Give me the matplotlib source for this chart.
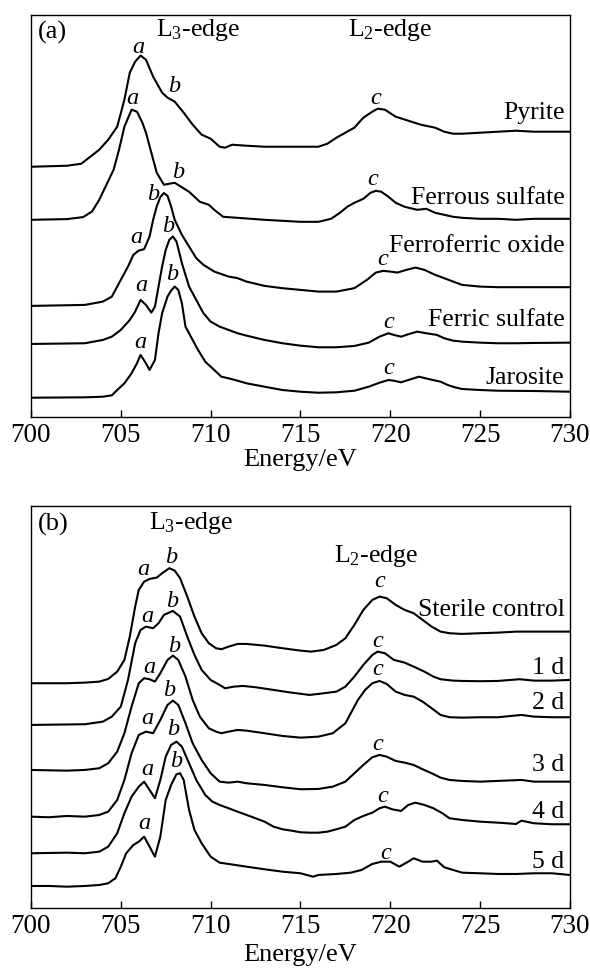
import numpy as np
import matplotlib
matplotlib.use("Agg")
import matplotlib.pyplot as plt

plt.rcParams['font.family'] = ['Liberation Serif', 'DejaVu Serif']
plt.rcParams['mathtext.fontset'] = 'custom'
plt.rcParams['mathtext.rm'] = 'Liberation Serif'
plt.rcParams['mathtext.it'] = 'Liberation Serif:italic'

# ---------------- panel (a): reference compounds (offset, a.u.) ----------------
pyrite_e = [700, 702, 702.8, 703.3, 703.8, 704.3, 704.8, 705.2, 705.5, 705.8, 706.1, 706.4, 706.8, 707.3,
            707.6, 708.0, 708.5, 709.0, 709.5, 710.0, 710.5, 710.8, 711.2, 712, 713, 714, 715, 716, 716.5,
            717, 717.5, 718, 718.5, 719, 719.3, 719.7, 720.3, 721, 721.7, 722.5, 723, 723.5, 724, 725, 726,
            727, 728, 730]
pyrite_i = [2.50, 2.51, 2.53, 2.60, 2.67, 2.77, 2.90, 3.17, 3.44, 3.55, 3.61, 3.57, 3.40, 3.24, 3.19, 3.15,
            3.04, 2.92, 2.82, 2.78, 2.70, 2.69, 2.72, 2.71, 2.70, 2.70, 2.70, 2.70, 2.73, 2.79, 2.84, 2.89,
            2.99, 3.05, 3.08, 3.07, 3.00, 2.96, 2.92, 2.89, 2.85, 2.83, 2.83, 2.84, 2.85, 2.86, 2.85, 2.85]

ferrous_e = [700, 702, 702.9, 703.4, 703.8, 704.2, 704.6, 704.9, 705.2, 705.6, 705.9, 706.2, 706.4, 706.7,
             707.0, 707.4, 708.0, 708.8, 709.4, 709.9, 710.2, 710.7, 711.5, 713, 715, 716, 716.7, 717.2,
             717.6, 718, 718.5, 718.9, 719.2, 719.5, 719.9, 720.3, 720.8, 721.5, 722, 722.5, 723.5, 724,
             725, 726, 727, 728, 730]
ferrous_i = [1.97, 1.977, 1.997, 2.053, 2.17, 2.32, 2.47, 2.67, 2.90, 3.07, 3.05, 2.94, 2.84, 2.64, 2.44,
             2.32, 2.34, 2.25, 2.15, 2.12, 2.07, 2.00, 1.99, 1.97, 1.95, 1.95, 1.98, 2.04, 2.10, 2.14, 2.18,
             2.24, 2.26, 2.25, 2.20, 2.14, 2.10, 2.07, 2.08, 2.04, 2.00, 1.99, 1.98, 1.98, 1.97, 1.98, 1.98]

ferroferric_e = [700, 703, 704, 704.5, 705, 705.4, 705.7, 706.0, 706.3, 706.6, 706.8, 707.0, 707.2, 707.4,
                 707.6, 707.8, 708.0, 708.4, 708.8, 709.2, 709.6, 710.2, 711, 711.5, 712, 713, 714, 715, 716,
                 717, 718, 718.7, 719.2, 719.6, 720.0, 720.4, 720.9, 721.4, 721.9, 722.5, 723, 723.5, 724,
                 725, 726, 728, 730]
ferroferric_i = [1.11, 1.12, 1.153, 1.203, 1.37, 1.503, 1.62, 1.663, 1.677, 1.803, 1.97, 2.103, 2.197, 2.237,
                 2.21, 2.103, 1.97, 1.82, 1.703, 1.587, 1.52, 1.453, 1.403, 1.387, 1.353, 1.31, 1.287, 1.27,
                 1.253, 1.253, 1.287, 1.37, 1.443, 1.46, 1.453, 1.443, 1.47, 1.493, 1.47, 1.42, 1.387, 1.353,
                 1.32, 1.303, 1.297, 1.297, 1.297]

ferric_e = [700, 703, 704, 704.5, 705, 705.5, 705.8, 706.1, 706.4, 706.7, 706.9, 707.1, 707.3, 707.5, 707.7,
            707.9, 708.1, 708.4, 708.8, 709.2, 709.6, 710, 710.5, 711, 711.5, 712, 713, 714, 715, 716, 717,
            718, 718.8, 719.4, 719.9, 720.2, 720.6, 721.0, 721.5, 722, 722.6, 723, 723.5, 724, 725, 726,
            727, 728, 730]
ferric_i = [0.73, 0.737, 0.77, 0.803, 0.87, 0.97, 1.053, 1.17, 1.12, 1.043, 1.103, 1.303, 1.503, 1.67, 1.77,
            1.803, 1.753, 1.537, 1.303, 1.17, 1.037, 0.953, 0.903, 0.87, 0.837, 0.813, 0.77, 0.737, 0.713,
            0.697, 0.697, 0.71, 0.743, 0.803, 0.837, 0.82, 0.803, 0.827, 0.853, 0.837, 0.82, 0.787, 0.763,
            0.753, 0.743, 0.737, 0.737, 0.74, 0.743]

jarosite_e = [700, 703, 704, 704.5, 704.8, 705.2, 705.6, 705.9, 706.1, 706.4, 706.6, 706.9, 707.1, 707.3,
              707.6, 707.8, 708.0, 708.2, 708.4, 708.6, 708.9, 709.3, 709.7, 710.2, 710.6, 711, 711.5, 712,
              713, 714, 715, 716, 717, 718, 718.8, 719.4, 719.9, 720.2, 720.6, 721, 721.6, 722.2, 722.8,
              723.2, 723.6, 724, 725, 726, 728, 730]
jarosite_i = [0.193, 0.197, 0.203, 0.217, 0.27, 0.337, 0.437, 0.537, 0.62, 0.537, 0.47, 0.57, 0.837, 1.037,
              1.203, 1.263, 1.303, 1.27, 1.137, 0.903, 0.803, 0.67, 0.553, 0.47, 0.403, 0.387, 0.363, 0.337,
              0.303, 0.27, 0.253, 0.243, 0.247, 0.263, 0.303, 0.343, 0.37, 0.363, 0.347, 0.37, 0.403, 0.377,
              0.353, 0.32, 0.297, 0.28, 0.27, 0.263, 0.26, 0.253]

names_a = ['Pyrite', 'Ferrous sulfate', 'Ferroferric oxide', 'Ferric sulfate', 'Jarosite']
name_y_a = [3.04, 2.19, 1.71, 0.97, 0.39]
# peak letters (letter, energy, height)
peaks_a = [('a', 705.97, 3.69), ('b', 707.95, 3.30), ('c', 719.2, 3.18),
           ('a', 705.65, 3.18), ('b', 708.2, 2.44), ('c', 719.0, 2.37),
           ('b', 706.8, 2.22), ('a', 705.86, 1.79), ('c', 719.6, 1.57),
           ('b', 707.63, 1.90), ('a', 706.14, 1.31), ('c', 719.92, 0.94),
           ('b', 707.86, 1.42), ('a', 706.1, 0.743), ('c', 719.92, 0.48)]

# ---------------- panel (b): bioleaching time series ----------------
sterile_e = [700, 702, 703, 703.8, 704.3, 704.8, 705.2, 705.5, 705.8, 706.0, 706.3, 706.6, 707.0, 707.3,
             707.7, 708.0, 708.3, 708.7, 709.1, 709.5, 709.9, 710.3, 710.6, 711.0, 711.5, 712, 713, 714,
             715, 715.6, 716.3, 717, 717.5, 718, 718.5, 719, 719.4, 719.8, 720.3, 720.8, 721.3, 721.8,
             722.3, 722.8, 723.3, 724, 725, 726, 727, 728, 730]
sterile_i = [2.247, 2.247, 2.253, 2.263, 2.29, 2.363, 2.48, 2.713, 3.013, 3.18, 3.263, 3.29, 3.303, 3.347,
             3.397, 3.373, 3.297, 3.113, 2.913, 2.747, 2.647, 2.597, 2.587, 2.613, 2.64, 2.64, 2.623, 2.597,
             2.573, 2.563, 2.58, 2.63, 2.697, 2.83, 2.98, 3.08, 3.113, 3.097, 3.03, 2.98, 2.947, 2.88, 2.813,
             2.763, 2.747, 2.74, 2.747, 2.753, 2.763, 2.763, 2.763]

d1_e = [700, 703, 704, 704.5, 705, 705.4, 705.8, 706.1, 706.4, 706.8, 707.1, 707.4, 707.9, 708.3, 708.7,
        709.1, 709.5, 710, 710.5, 710.8, 711.3, 711.8, 712.5, 713.5, 714.5, 715.5, 716, 717, 717.5, 718,
        718.5, 719, 719.3, 719.7, 720.2, 720.8, 721.3, 721.9, 722.4, 722.8, 723.5, 724, 725, 726, 727.2,
        728, 729, 730]
d1_i = [1.83, 1.837, 1.863, 1.913, 2.013, 2.28, 2.647, 2.78, 2.813, 2.797, 2.847, 2.93, 2.97, 2.913, 2.713,
        2.53, 2.38, 2.28, 2.23, 2.197, 2.213, 2.22, 2.207, 2.18, 2.153, 2.13, 2.14, 2.163, 2.213, 2.313,
        2.43, 2.53, 2.563, 2.547, 2.48, 2.453, 2.413, 2.363, 2.313, 2.287, 2.273, 2.27, 2.267, 2.27, 2.287,
        2.273, 2.273, 2.28]

d2_e = [700, 702, 703, 703.8, 704.3, 704.8, 705.2, 705.6, 706.0, 706.3, 706.6, 706.9, 707.2, 707.6, 707.9,
        708.2, 708.6, 709.0, 709.4, 709.9, 710.3, 710.6, 711, 711.5, 712, 713, 714, 715, 716, 716.8, 717.5,
        717.8, 718.2, 718.6, 719, 719.4, 719.8, 720.3, 720.8, 721.3, 721.8, 722.3, 722.8, 723.3, 724, 725,
        726, 727.3, 728, 729, 730]
d2_i = [1.38, 1.373, 1.38, 1.397, 1.447, 1.563, 1.747, 2.013, 2.247, 2.297, 2.287, 2.263, 2.347, 2.48, 2.523,
        2.48, 2.313, 2.08, 1.913, 1.797, 1.763, 1.747, 1.763, 1.78, 1.773, 1.747, 1.72, 1.703, 1.713, 1.747,
        1.847, 1.947, 2.08, 2.18, 2.247, 2.27, 2.24, 2.163, 2.13, 2.113, 2.063, 1.997, 1.93, 1.907, 1.903,
        1.907, 1.907, 1.93, 1.913, 1.907, 1.907]

d3_e = [700, 701, 702, 703, 703.8, 704.3, 704.8, 705.2, 705.6, 706.0, 706.4, 706.8, 707.2, 707.6, 707.9,
        708.2, 708.6, 709, 709.5, 710, 710.5, 711, 711.5, 712, 713, 714, 715, 716, 716.8, 717.5, 718, 718.5,
        719, 719.4, 719.8, 720.3, 720.8, 721.3, 721.8, 722.3, 722.8, 723.3, 724, 725, 727.3, 728, 730]
d3_i = [0.913, 0.907, 0.92, 0.913, 0.93, 0.963, 1.08, 1.28, 1.547, 1.73, 1.763, 1.747, 1.88, 2.03, 2.073,
        2.03, 1.847, 1.647, 1.48, 1.347, 1.263, 1.253, 1.263, 1.247, 1.23, 1.207, 1.187, 1.19, 1.213, 1.263,
        1.347, 1.43, 1.507, 1.53, 1.513, 1.47, 1.453, 1.43, 1.387, 1.347, 1.303, 1.28, 1.27, 1.263, 1.28,
        1.263, 1.263]

d4_e = [700, 702, 703, 703.8, 704.3, 704.8, 705.2, 705.6, 706.0, 706.3, 706.6, 706.9, 707.2, 707.5, 707.8,
        708.1, 708.4, 708.8, 709.2, 709.7, 710.1, 710.5, 711, 711.5, 712, 712.5, 713, 713.5, 714, 714.5, 715,
        715.5, 716, 716.5, 717, 717.5, 718, 718.5, 719, 719.4, 719.7, 720.1, 720.6, 721.0, 721.4, 721.9,
        722.4, 722.9, 723.3, 724, 725, 726, 727, 727.3, 728, 729, 730]
d4_i = [0.547, 0.553, 0.547, 0.563, 0.613, 0.747, 0.947, 1.113, 1.213, 1.263, 1.18, 1.097, 1.28, 1.513, 1.63,
        1.663, 1.613, 1.447, 1.28, 1.13, 1.063, 1.03, 0.997, 0.963, 0.93, 0.897, 0.863, 0.813, 0.787, 0.773,
        0.757, 0.753, 0.753, 0.763, 0.787, 0.813, 0.88, 0.92, 0.953, 0.997, 1.013, 0.987, 0.97, 1.03, 1.053,
        1.03, 0.997, 0.947, 0.897, 0.88, 0.863, 0.853, 0.84, 0.873, 0.847, 0.837, 0.837]

d5_e = [700, 701, 702, 703, 703.8, 704.3, 704.7, 705.0, 705.3, 705.7, 706.0, 706.3, 706.6, 706.9, 707.2,
        707.5, 707.8, 708.1, 708.3, 708.5, 708.8, 709.1, 709.5, 710, 710.5, 711, 712, 713, 714, 715, 715.7,
        716, 717, 717.8, 718.4, 719, 719.5, 720, 720.5, 721, 721.3, 721.8, 722.3, 722.6, 723, 723.5, 724,
        725, 726, 727, 728, 729, 730]
d5_i = [0.22, 0.22, 0.213, 0.22, 0.23, 0.247, 0.297, 0.413, 0.547, 0.63, 0.663, 0.713, 0.613, 0.513, 0.713,
        1.08, 1.23, 1.337, 1.347, 1.28, 0.98, 0.78, 0.647, 0.513, 0.453, 0.44, 0.413, 0.387, 0.363, 0.347,
        0.313, 0.33, 0.34, 0.353, 0.38, 0.44, 0.463, 0.463, 0.413, 0.463, 0.497, 0.463, 0.463, 0.473, 0.407,
        0.38, 0.353, 0.347, 0.34, 0.34, 0.347, 0.347, 0.33]

names_b = ['Sterile control', '1 d', '2 d', '3 d', '4 d', '5 d']
name_y_b = [2.98, 2.40, 2.05, 1.43, 0.963, 0.463]
peaks_b = [('a', 706.24, 3.38), ('b', 707.8, 3.50), ('c', 719.43, 3.26),
           ('a', 706.5, 2.91), ('b', 707.85, 3.06), ('c', 719.3, 2.66),
           ('a', 706.6, 2.40), ('b', 707.95, 2.61), ('c', 719.3, 2.38),
           ('a', 706.5, 1.89), ('b', 707.7, 2.17), ('c', 719.3, 1.63),
           ('a', 706.45, 1.38), ('b', 707.9, 1.78), ('c', 719.6, 1.11),
           ('a', 706.3, 0.847), ('b', 708.1, 1.46), ('c', 719.74, 0.547)]

curves_a = [(pyrite_e, pyrite_i), (ferrous_e, ferrous_i), (ferroferric_e, ferroferric_i),
            (ferric_e, ferric_i), (jarosite_e, jarosite_i)]
curves_b = [(sterile_e, sterile_i), (d1_e, d1_i), (d2_e, d2_i), (d3_e, d3_i), (d4_e, d4_i), (d5_e, d5_i)]

fig = plt.figure(figsize=(5.9, 9.71), dpi=100)
ax1 = fig.add_axes([0.0525, 0.5705, 0.9135, 0.4145])
ax2 = fig.add_axes([0.0525, 0.0649, 0.9135, 0.4141])


def style(ax, tag, curves, names, name_y, peaks, l3, l2, lpad):
    for e, i in curves:
        ax.plot(e, i, color='black', lw=1.5, solid_joinstyle='round')
    for n, y in zip(names, name_y):
        ax.text(729.7, y, n, ha='right', va='center', fontsize=18.5)
    for letter, x, y in peaks:
        ax.text(x, y, letter, ha='center', va='center', fontsize=17.5, fontstyle='italic')
    ax.text(0.012, 0.955, tag, transform=ax.transAxes, ha='left', va='center', fontsize=19)
    ax.text(l3[0], l3[1], 'L$_3$-edge', ha='center', va='center', fontsize=18.5)
    ax.text(l2[0], l2[1], 'L$_2$-edge', ha='center', va='center', fontsize=18.5)
    ax.set_xlim(700, 730)
    ax.set_ylim(0, 4.02)
    ax.set_xticks([700, 705, 710, 715, 720, 725, 730])
    ax.set_yticks([])
    ax.tick_params(axis='x', direction='in', length=5, width=1, labelsize=19.5, pad=4)
    ax.set_xlabel('Energy/eV', fontsize=19, labelpad=lpad)
    for s in ax.spines.values():
        s.set_linewidth(1.0)


style(ax1, '(a)', curves_a, names_a, name_y_a, peaks_a, (709.3, 3.87), (720.0, 3.87), 1)
style(ax2, '(b)', curves_b, names_b, name_y_b, peaks_b, (708.9, 3.85), (719.2, 3.52), 4)

fig.savefig('out.png', dpi=100)
